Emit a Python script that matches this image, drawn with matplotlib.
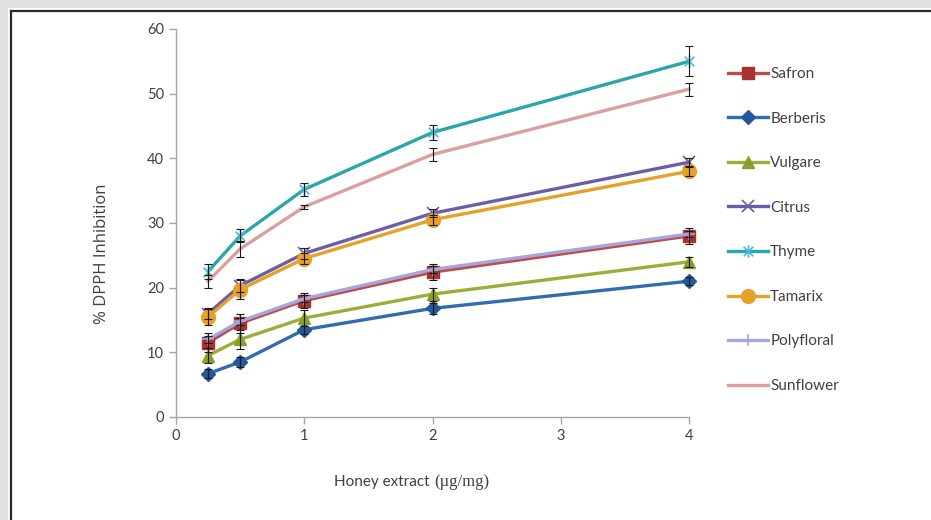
import matplotlib
matplotlib.use('Agg')
import matplotlib.pyplot as plt
from matplotlib.patches import Rectangle
from matplotlib.lines import Line2D
from matplotlib.path import Path

# === data ===
doses = [0.25, 0.5, 1, 2, 4]
names = ['Safron', 'Berberis', 'Vulgare', 'Citrus', 'Thyme', 'Tamarix', 'Polyfloral', 'Sunflower']

safron = [11.5, 14.5, 18.0, 22.4, 28.0]
berberis = [6.7, 8.5, 13.5, 16.8, 21.0]
vulgare = [9.5, 12.0, 15.3, 19.0, 24.0]
citrus = [16.0, 20.3, 25.3, 31.5, 39.4]
thyme = [22.5, 28.0, 35.2, 44.0, 55.0]
tamarix = [15.5, 19.7, 24.5, 30.5, 38.0]
polyfloral = [12.0, 14.8, 18.3, 22.8, 28.3]
sunflower = [21.0, 26.0, 32.5, 40.6, 50.7]

safron_err = [1.5, 1.5, 1.2, 1.2, 1.2]
berberis_err = [0.7, 0.8, 0.6, 0.8, 0.6]
vulgare_err = [1.2, 1.5, 1.2, 1.0, 0.8]
citrus_err = [0.8, 1.0, 0.8, 0.6, 0.6]
thyme_err = [1.2, 1.0, 1.0, 1.2, 2.3]
tamarix_err = [1.2, 1.5, 0.8, 0.8, 0.7]
polyfloral_err = [0.5, 0.5, 0.5, 0.5, 0.5]
sunflower_err = [1.0, 1.2, 0.3, 1.0, 1.0]

# === styles ===
star = Path([(-1, -1), (1, 1), (-1, 1), (1, -1), (0, -1.3), (0, 1.3)],
            [Path.MOVETO, Path.LINETO, Path.MOVETO, Path.LINETO, Path.MOVETO, Path.LINETO])

styles = {
    'Safron':     dict(color='#BE4B48', marker='s', ms=9, mfc='#A8322F', mec='#A8322F'),
    'Berberis':   dict(color='#2F6DAE', marker='D', ms=7, mfc='#24589A', mec='#24589A'),
    'Vulgare':    dict(color='#9AAE38', marker='^', ms=9, mfc='#8A9E2A', mec='#8A9E2A'),
    'Citrus':     dict(color='#6E5DA6', marker='x', ms=9, mew=1.2),
    'Thyme':      dict(color='#2BA6A8', marker=star, ms=9, mew=1.2, mec='#48BCD0'),
    'Tamarix':    dict(color='#E6A129', marker='o', ms=10, mfc='#E6A129', mec='#E6A129'),
    'Polyfloral': dict(color='#A3A6DF', marker='+', ms=9, mew=1.2),
    'Sunflower':  dict(color='#D9A09F', marker=None),
}

series = [safron, berberis, vulgare, citrus, thyme, tamarix, polyfloral, sunflower]
errors = [safron_err, berberis_err, vulgare_err, citrus_err, thyme_err,
          tamarix_err, polyfloral_err, sunflower_err]

plt.rcParams['font.family'] = ['Lato', 'DejaVu Sans']

fig = plt.figure(figsize=(9.31, 5.2), dpi=100)
fig.patch.set_facecolor('#E0E0E0')
W, H = 931, 520
# white panel with dark top/left border
fig.add_artist(Rectangle((8 / W, 0), 1, 1 - 8 / H, transform=fig.transFigure,
                         facecolor='white', edgecolor='none', zorder=-5))
fig.add_artist(Line2D([11 / W, 1], [1 - 11 / H, 1 - 11 / H], transform=fig.transFigure,
                      color='#2A2A2A', linewidth=1.6, zorder=-4))
fig.add_artist(Line2D([11 / W, 11 / W], [0, 1 - 11 / H], transform=fig.transFigure,
                      color='#2A2A2A', linewidth=1.6, zorder=-4))

ax = fig.add_axes([176 / W, 103 / H, 513 / W, 388 / H])
ax.set_facecolor('none')
ax.set_zorder(2)

for name, ys, es in zip(names, series, errors):
    st = dict(styles[name])
    ax.plot(doses, ys, linewidth=2.4, label=name, zorder=3, clip_on=False, **st)
    ax.errorbar(doses, ys, yerr=es, fmt='none', ecolor='#1A1A1A',
                elinewidth=0.8, capsize=3, capthick=0.8, zorder=4, clip_on=False)

ax.set_xlim(0, 4)
ax.set_ylim(0, 60)
ax.set_xticks([0, 1, 2, 3, 4])
ax.set_yticks([0, 10, 20, 30, 40, 50, 60])
for s in ['top', 'right']:
    ax.spines[s].set_visible(False)
for s in ['left', 'bottom']:
    ax.spines[s].set_color('#A6A6A6')
    ax.spines[s].set_linewidth(1.0)
ax.tick_params(colors='#A6A6A6', labelcolor='#404040', labelsize=10.5,
               length=5, width=1.0)

fig.text(102 / W, 1 - 254 / H, '% DPPH Inhibition', fontsize=12, color='#404040',
         rotation=90, ha='center', va='center', family='Open Sans')
fig.text(430 / W, 1 - 482 / H, 'Honey extract', fontsize=11, color='#404040',
         ha='right', va='center')
fig.text(434 / W, 1 - 482 / H, '(\u00b5g/mg)', fontsize=12, color='#404040',
         ha='left', va='center', family='Liberation Serif')

leg = ax.legend(loc='upper left', bbox_to_anchor=(722 / W, 1 - 61 / H),
                bbox_transform=fig.transFigure, frameon=False, fontsize=11,
                labelspacing=2.0, handlelength=2.6, handletextpad=0.15,
                borderaxespad=0)
for t in leg.get_texts():
    t.set_color('#404040')

fig.savefig('out.png', dpi=100, facecolor=fig.get_facecolor())
